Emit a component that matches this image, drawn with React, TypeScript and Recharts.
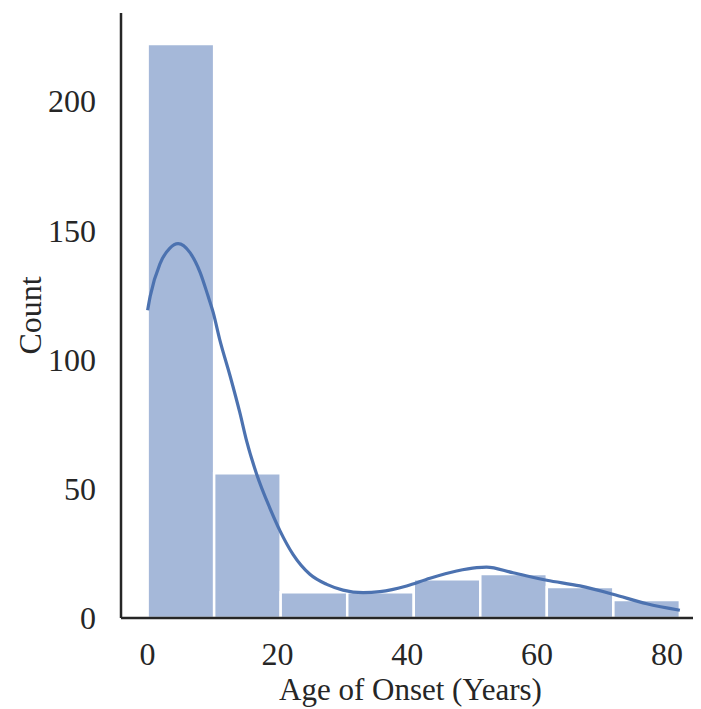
import React from 'react';
import { ComposedChart, Line, XAxis, YAxis, ReferenceArea } from 'recharts';

const binEdges = [0, 10.25, 20.5, 30.75, 41, 51.25, 61.5, 71.75, 82];
const binCounts = [222, 56, 10, 10, 15, 17, 12, 7];

const kdeAges = [0, 0.4, 1.9, 3.4, 4.7, 6.5, 8.1, 9.3, 10.1, 11.1, 12.7, 14.2, 15.25, 16.8, 18.8, 20.4, 22.4, 25, 27.6, 30.1, 33.2, 35.8, 39.9, 43.5, 47.6, 50.7, 52.2, 56.3, 61.5, 66.6, 71.7, 76.9, 82];
const kdeCounts = [119, 124.5, 137, 143, 144.8, 141.4, 133.6, 124.6, 118.2, 107.8, 93.7, 79.5, 68.5, 55.6, 42.7, 33.7, 24.6, 16.9, 13, 10.8, 9.8, 10.2, 12.4, 15.4, 18.2, 19.5, 19.7, 17.5, 14.6, 12.4, 9.2, 5.5, 3.0];

const xTicks = [0, 20, 40, 60, 80];
const yTicks = [0, 50, 100, 150, 200];

const kdeData = kdeAges.map((age, i) => ({ age, count: kdeCounts[i] }));

const FONT = '"Liberation Serif", "Times New Roman", serif';
const TEXT = '#262626';

export default function App() {
  return (
    <div>
      <ComposedChart
        width={693}
        height={701}
        data={kdeData}
        margin={{ top: 5, right: 1, left: 0, bottom: 0 }}
      >
        <XAxis
          dataKey="age"
          type="number"
          domain={[-4.1, 85.1]}
          ticks={xTicks}
          tickLine={false}
          tickSize={0}
          tickMargin={24}
          axisLine={{ stroke: '#262626', strokeWidth: 2.5 }}
          tick={{ fontFamily: FONT, fontSize: 32, fill: TEXT }}
          height={91}
          allowDataOverflow
          label={{
            value: 'Age of Onset (Years)',
            position: 'insideBottom',
            offset: 9,
            style: { fontFamily: FONT, fontSize: 31, fill: TEXT },
          }}
        />
        <YAxis
          type="number"
          domain={[0, 234]}
          ticks={yTicks}
          tickLine={false}
          tickSize={0}
          tickMargin={25}
          width={113}
          axisLine={{ stroke: '#262626', strokeWidth: 2.5 }}
          tick={{ fontFamily: FONT, fontSize: 32, fill: TEXT }}
          allowDataOverflow
          label={{
            content: (props: any) => {
              const vb = props.viewBox || {};
              const cx = (vb.x || 0) + 22;
              const cy = (vb.y || 0) + (vb.height || 0) / 2;
              return (
                <text
                  x={cx}
                  y={cy}
                  transform={`rotate(-90, ${cx}, ${cy})`}
                  textAnchor="middle"
                  dominantBaseline="central"
                  style={{ fontFamily: FONT, fontSize: 32, fill: TEXT }}
                >
                  Count
                </text>
              );
            },
          }}
        />
        {binCounts.map((c, i) => (
          <ReferenceArea
            key={i}
            x1={binEdges[i]}
            x2={binEdges[i + 1]}
            y1={0}
            y2={c}
            fill="#a5b8d9"
            fillOpacity={1}
            stroke="#ffffff"
            strokeWidth={2.5}
            strokeOpacity={1}
          />
        ))}
        <Line
          type="monotone"
          dataKey="count"
          stroke="#4c72b0"
          strokeWidth={3.2}
          dot={false}
          activeDot={false}
          isAnimationActive={false}
        />
      </ComposedChart>
    </div>
  );
}
